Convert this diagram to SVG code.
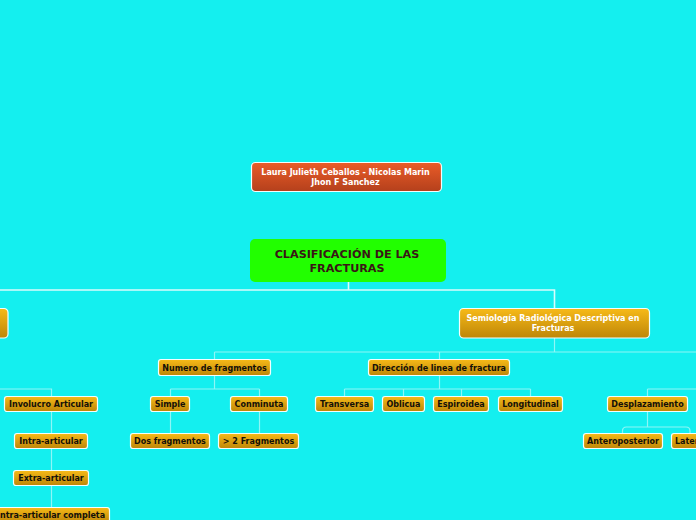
<svg xmlns="http://www.w3.org/2000/svg" width="696" height="520" viewBox="0 0 696 520">
<defs>
<linearGradient id="gOr" x1="0" y1="0" x2="0" y2="1">
<stop offset="0" stop-color="#F7BA18"/>
<stop offset="1" stop-color="#BE8608"/>
</linearGradient>
<linearGradient id="gRed" x1="0" y1="0" x2="0" y2="1">
<stop offset="0" stop-color="#EA5C28"/>
<stop offset="1" stop-color="#B4401C"/>
</linearGradient>
<style>
.bg{fill:#14EFEF}
.or{fill:url(#gOr);stroke:#F2FFFF;stroke-width:1.2}
.red{fill:url(#gRed);stroke:#F2FFFF;stroke-width:1.2}
.grn{fill:#22FF00}
.t{font-family:"DejaVu Sans","Verdana",sans-serif;font-weight:bold;font-size:8px;text-anchor:middle;fill:#141008}
.tw{font-family:"DejaVu Sans","Verdana",sans-serif;font-weight:bold;font-size:8px;text-anchor:middle;fill:#FFFFFF}
.tm{font-family:"DejaVu Sans","Verdana",sans-serif;font-weight:bold;font-size:11.2px;text-anchor:middle;fill:#3A1616}
.c1{fill:none;stroke:#D8FCFC;stroke-width:1.6}
.c2{fill:none;stroke:#8EF6F6;stroke-width:1.2}
</style>
</defs>
<rect class="bg" x="0" y="0" width="696" height="520"/>
<g id="connectors">
<path class="c1" d="M348.5 282V290M0 290H554.5V308"/>
<path class="c2" d="M554.5 338V352M214.5 352H696M214.5 352V359M439.5 352V359"/>
<path class="c2" d="M214.5 375V389M170.5 389H259.5M170.5 389V396M259.5 389V396M170.5 411V433M259.5 411V433"/>
<path class="c2" d="M439.5 375V389M344.5 389H530.5M344.5 389V396M403.5 389V396M461.5 389V396M530.5 389V396"/>
<path class="c2" d="M647.5 389H696M647.5 389V396M647.5 411V427M622.5 433V431Q622.5 427 626.5 427H686Q690 427 690 431V433"/>
<path class="c2" d="M0 389H51.5V396M51.5 411V433M51.5 448V470M51.5 485V507"/>
</g>
<g id="author">
<rect class="red" x="251.5" y="162.5" width="190" height="29" rx="4"/>
<text class="tw" x="345.5" y="174.5">Laura Julieth Ceballos - Nicolas Marin</text>
<text class="tw" x="345.5" y="184.5">Jhon F Sanchez</text>
</g>
<g id="main">
<rect class="grn" x="250" y="239" width="196" height="43" rx="5"/>
<text class="tm" x="347" y="258">CLASIFICACIÓN DE LAS</text>
<text class="tm" x="347" y="272">FRACTURAS</text>
</g>
<g id="left-node">
<rect class="or" x="-20" y="308.5" width="28" height="29.5" rx="4"/>
</g>
<g id="semiologia">
<rect class="or" x="459.5" y="308.5" width="190" height="29.5" rx="4"/>
<text class="tw" x="553" y="320.5">Semiología Radiológica Descriptiva en</text>
<text class="tw" x="553" y="330.5">Fracturas</text>
</g>
<g id="numero">
<rect class="or" x="158.5" y="359.5" width="112" height="16" rx="2.5"/>
<text class="t" x="214.5" y="370.5">Numero de fragmentos</text>
</g>
<g id="direccion">
<rect class="or" x="368.5" y="359.5" width="141" height="16" rx="2.5"/>
<text class="t" x="439" y="370.5">Dirección de linea de fractura</text>
</g>
<g id="involucro">
<rect class="or" x="4.5" y="396.5" width="93" height="15" rx="2.5"/>
<text class="t" x="51" y="407">Involucro Articular</text>
</g>
<g id="simple">
<rect class="or" x="150.5" y="396.5" width="39" height="15" rx="2.5"/>
<text class="t" x="170" y="407">Simple</text>
</g>
<g id="conminuta">
<rect class="or" x="230.5" y="396.5" width="57" height="15" rx="2.5"/>
<text class="t" x="259" y="407">Conminuta</text>
</g>
<g id="transversa">
<rect class="or" x="315.5" y="396.5" width="58" height="15" rx="2.5"/>
<text class="t" x="344.5" y="407">Transversa</text>
</g>
<g id="oblicua">
<rect class="or" x="382.5" y="396.5" width="42" height="15" rx="2.5"/>
<text class="t" x="403.5" y="407">Oblicua</text>
</g>
<g id="espiroidea">
<rect class="or" x="433.5" y="396.5" width="55" height="15" rx="2.5"/>
<text class="t" x="461" y="407">Espiroidea</text>
</g>
<g id="longitudinal">
<rect class="or" x="498.5" y="396.5" width="64" height="15" rx="2.5"/>
<text class="t" x="530.5" y="407">Longitudinal</text>
</g>
<g id="desplazamiento">
<rect class="or" x="607.5" y="396.5" width="80" height="15" rx="2.5"/>
<text class="t" x="647.5" y="407">Desplazamiento</text>
</g>
<g id="intra">
<rect class="or" x="14.5" y="433.5" width="73" height="15" rx="2.5"/>
<text class="t" x="51" y="444">Intra-articular</text>
</g>
<g id="dos">
<rect class="or" x="130.5" y="433.5" width="79" height="15" rx="2.5"/>
<text class="t" x="170" y="444">Dos fragmentos</text>
</g>
<g id="mas2">
<rect class="or" x="218.5" y="433.5" width="80" height="15" rx="2.5"/>
<text class="t" x="258.5" y="444">&gt; 2 Fragmentos</text>
</g>
<g id="antero">
<rect class="or" x="583.5" y="433.5" width="79" height="15" rx="2.5"/>
<text class="t" x="623" y="444">Anteroposterior</text>
</g>
<g id="lateral">
<rect class="or" x="671.5" y="433.5" width="46" height="15" rx="2.5"/>
<text class="t" x="675" y="444" style="text-anchor:start">Lateral</text>
</g>
<g id="extra">
<rect class="or" x="13.5" y="470.5" width="75" height="15" rx="2.5"/>
<text class="t" x="51" y="481">Extra-articular</text>
</g>
<g id="intra-completa">
<rect class="or" x="-7.5" y="507.5" width="117" height="15" rx="2.5"/>
<text class="t" x="51" y="518">Intra-articular completa</text>
</g>
</svg>
